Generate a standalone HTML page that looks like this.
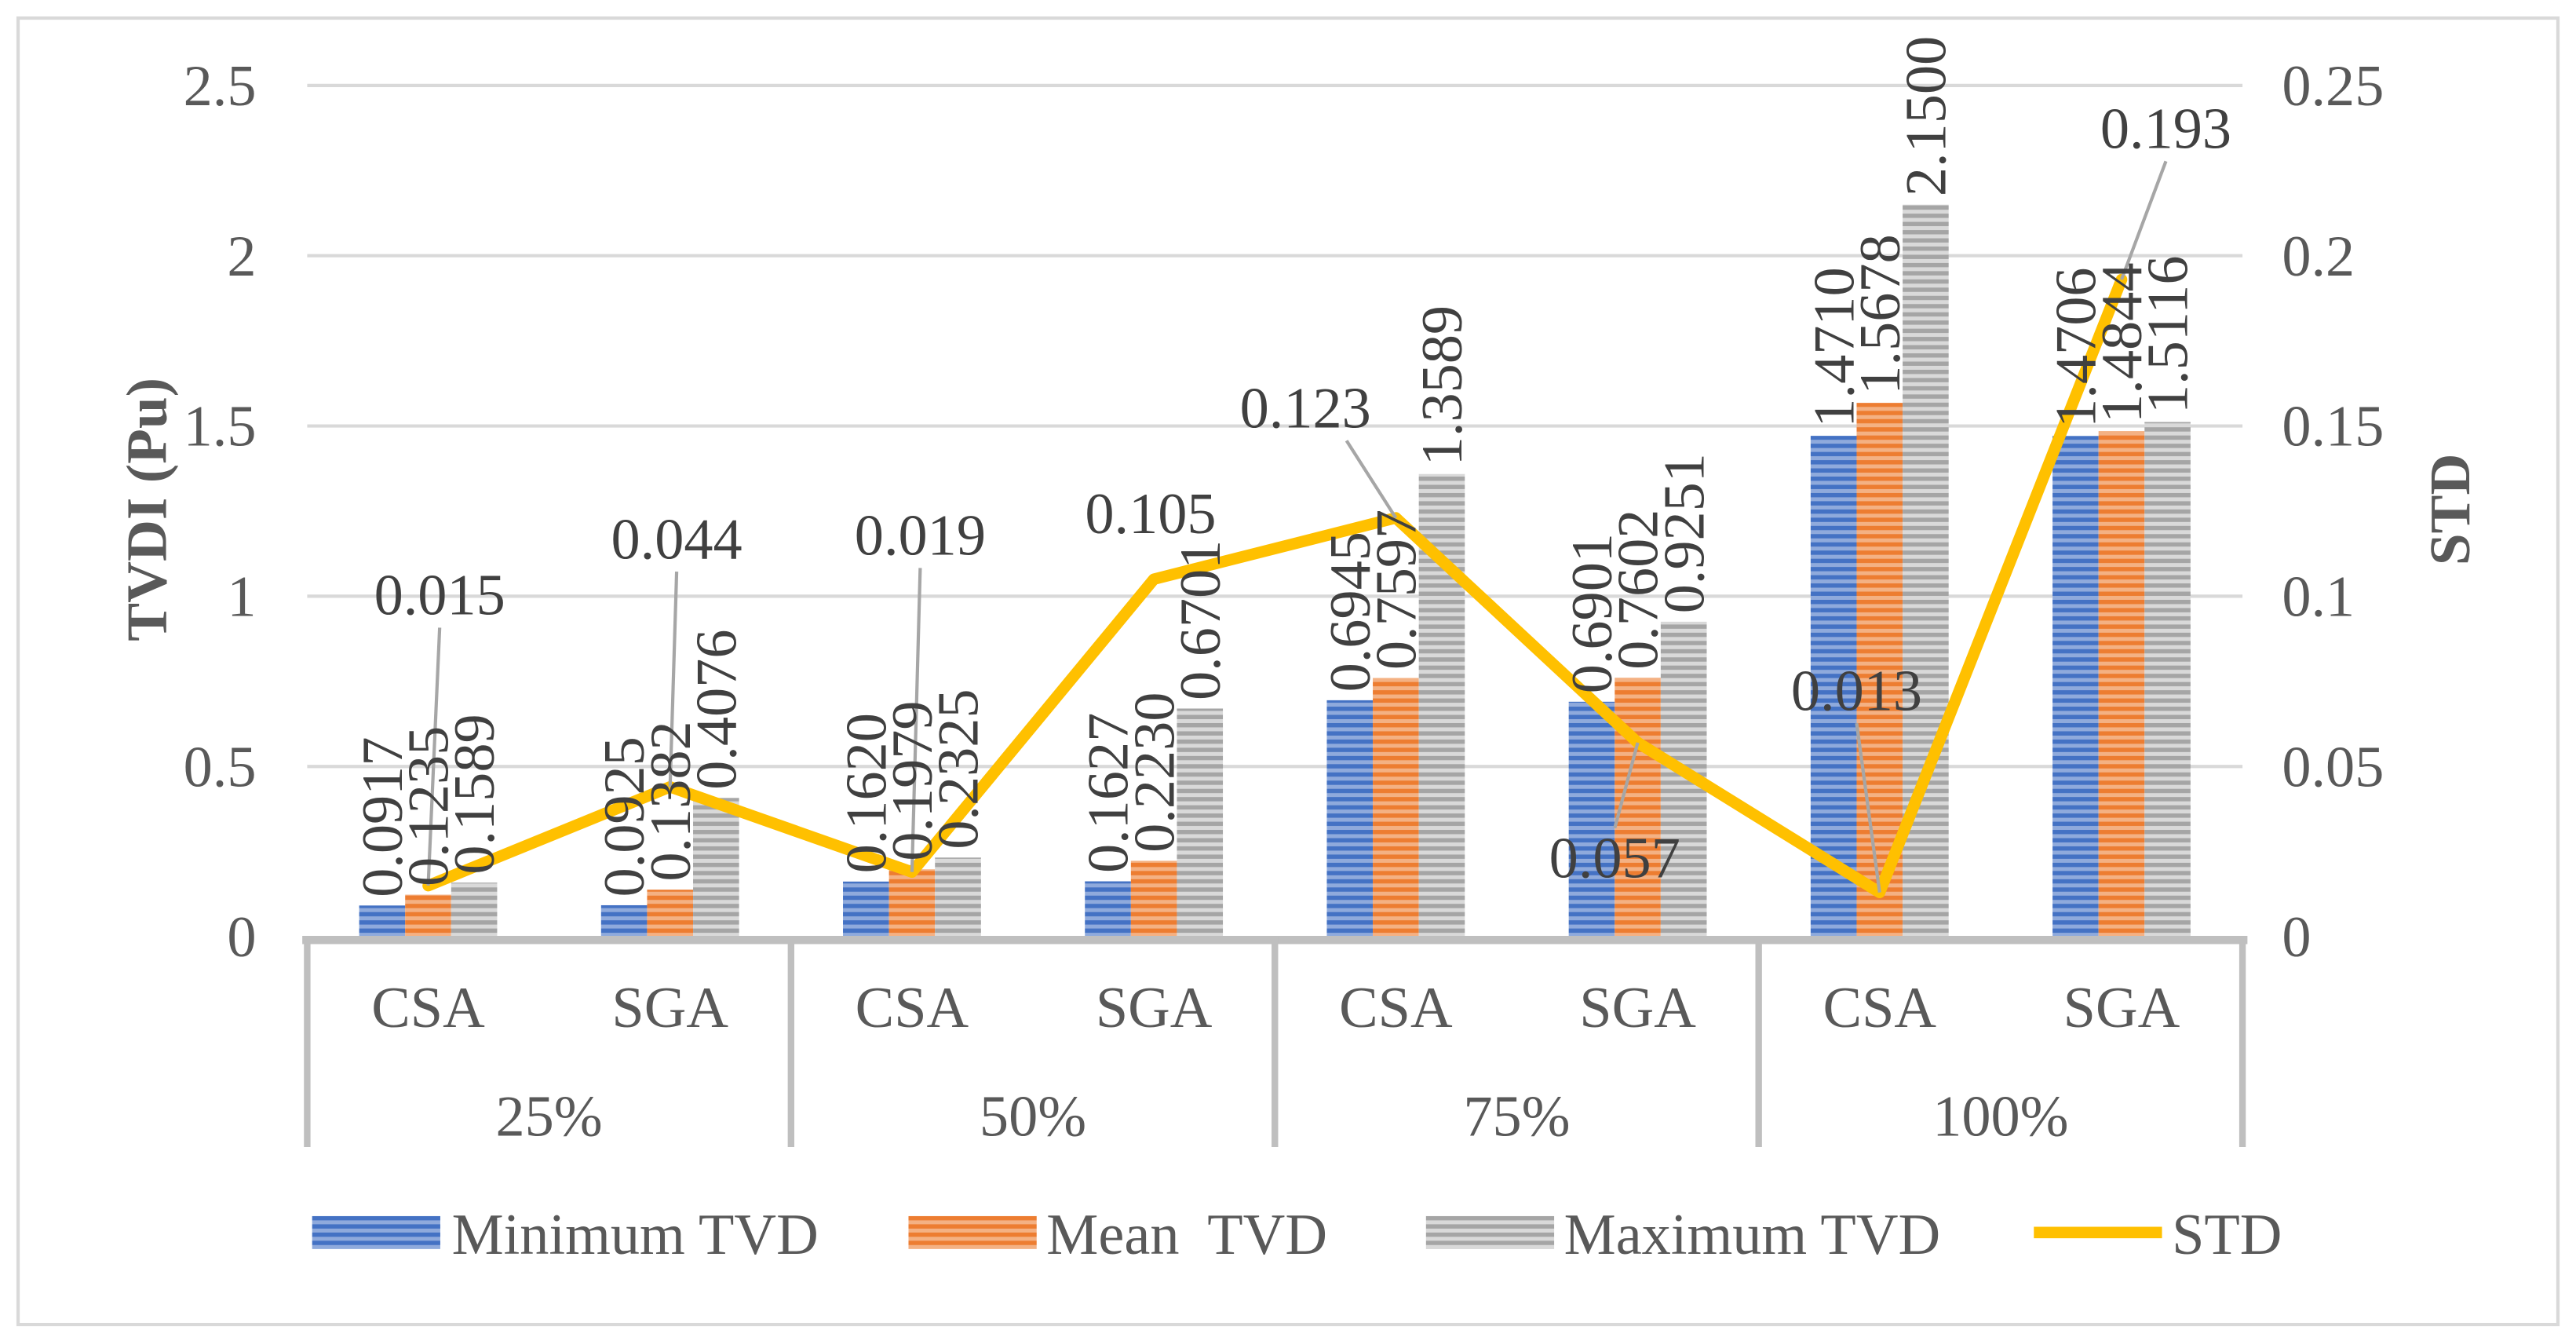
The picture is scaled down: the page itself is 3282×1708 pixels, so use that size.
<!DOCTYPE html>
<html><head><meta charset="utf-8"><style>
html,body{margin:0;padding:0;background:#fff}
svg{display:block}
text{font-family:"Liberation Serif",serif}
</style></head><body>
<svg id="chart" width="3282" height="1708" viewBox="0 0 1568 816" xmlns="http://www.w3.org/2000/svg">
<defs>
<pattern id="pBlue" width="8" height="5" patternUnits="userSpaceOnUse"><rect width="8" height="5" fill="#8faadc"/><rect width="8" height="2.6" fill="#4472c4"/></pattern>
<pattern id="pOrange" width="8" height="5" patternUnits="userSpaceOnUse"><rect width="8" height="5" fill="#f4b183"/><rect width="8" height="2.6" fill="#ed7d31"/></pattern>
<pattern id="pGrey" width="8" height="5" patternUnits="userSpaceOnUse"><rect width="8" height="5" fill="#d9d9d9"/><rect width="8" height="2.6" fill="#a5a5a5"/></pattern>
</defs>
<rect x="11" y="11" width="1546" height="795" fill="#fff" stroke="#d9d9d9" stroke-width="2"/>
<g id="grid"></g>
<g id="bars"></g>
<g id="axes"></g>
<g id="line"></g>
<g id="labels"></g>
<text transform="translate(101,310) rotate(-90)" text-anchor="middle" font-size="35" font-weight="bold" fill="#595959">TVDI (Pu)</text>
<text transform="translate(1503,310) rotate(-90)" text-anchor="middle" font-size="35" font-weight="bold" fill="#595959">STD</text>
<g>
<rect x="190" y="740" width="78" height="20" fill="url(#pBlue)"/>
<text x="275" y="763" font-size="35.5" fill="#595959">Minimum TVD</text>
<rect x="553" y="740" width="78" height="20" fill="url(#pOrange)"/>
<text x="637" y="763" font-size="35.5" fill="#595959" xml:space="preserve">Mean  TVD</text>
<rect x="868" y="740" width="78" height="20" fill="url(#pGrey)"/>
<text x="952" y="763" font-size="35.5" fill="#595959">Maximum TVD</text>
<line x1="1238" y1="750" x2="1316" y2="750" stroke="#ffc000" stroke-width="7"/>
<text x="1322" y="763" font-size="35.5" fill="#595959">STD</text>
</g>
</svg>
<script>
const categories = ["CSA","SGA","CSA","SGA","CSA","SGA","CSA","SGA"];
const groups = ["25%","50%","75%","100%"];
const minTVD = [0.0917,0.0925,0.1620,0.1627,0.6945,0.6901,1.4710,1.4706];
const meanTVD = [0.1235,0.1382,0.1979,0.2230,0.7597,0.7602,1.5678,1.4844];
const maxTVD = [0.1589,0.4076,0.2325,0.6701,1.3589,0.9251,2.1500,1.5116];
const stdVals = [0.015,0.044,0.019,0.105,0.123,0.057,0.013,0.193];
const stdLabels = ["0.015","0.044","0.019","0.105","0.123","0.057","0.013","0.193"];
const leftTicks = [0,0.5,1,1.5,2,2.5];
const leftTickLabels = ["0","0.5","1","1.5","2","2.5"];
const rightTicks = [0,0.05,0.1,0.15,0.2,0.25];
const rightTickLabels = ["0","0.05","0.1","0.15","0.2","0.25"];
// label offsets for STD data labels (layout, thumbnail units): dx, dy(baseline)
const stdLabelOffsets = [[7,-165],[4,-139],[5,-193],[-2,-28],[-55,-55],[-14,82],[-14,-111],[27,-80]];

const NS="http://www.w3.org/2000/svg";
const X0=187,X1=1365,Y0=570,YT=52,FS=35.5;
const yL=v=>Y0-v/2.5*(Y0-YT);
const yR=v=>Y0-v/0.25*(Y0-YT);
const catW=(X1-X0)/categories.length;
const xC=i=>X0+catW*(i+0.5);
function mk(tag,attrs,parent){const e=document.createElementNS(NS,tag);for(const k in attrs)e.setAttribute(k,attrs[k]);parent.appendChild(e);return e;}
const gGrid=document.getElementById('grid'),gBars=document.getElementById('bars'),gAxes=document.getElementById('axes'),gLine=document.getElementById('line'),gLab=document.getElementById('labels');

leftTicks.forEach((t,i)=>{
  if(t>0){const l=mk('line',{x1:X0,x2:X1,y1:yL(t),y2:yL(t),stroke:'#d9d9d9','stroke-width':2},gGrid);
  
  }
  const tx=mk('text',{x:156,y:yL(t)+12,'text-anchor':'end','font-size':FS,fill:'#595959'},gAxes);
  tx.textContent=leftTickLabels[i];
  
  
});
rightTicks.forEach((t,i)=>{
  const tx=mk('text',{x:1389,y:yR(t)+12,'font-size':FS,fill:'#595959'},gAxes);
  tx.textContent=rightTickLabels[i];
  
  
});

const series=[[minTVD,'url(#pBlue)','bar-minimum-tvd',-28],[meanTVD,'url(#pOrange)','bar-mean-tvd',0],[maxTVD,'url(#pGrey)','bar-maximum-tvd',28]];
series.forEach(([vals,fill,name,off])=>{
  vals.forEach((v,i)=>{
    const cx=xC(i)+off;
    const r=mk('rect',{x:cx-14,y:yL(v),width:28,height:Y0-yL(v),fill:fill},gBars);
    
    
    const t=mk('text',{transform:`translate(${cx+12},${yL(v)-5}) rotate(-90)`,'font-size':FS,fill:'#404040'},gLab);
    t.textContent=v.toFixed(4);
    
    
  });
});

const ax=mk('line',{x1:X0-3,x2:X1+3,y1:Y0+2,y2:Y0+2,stroke:'#bfbfbf','stroke-width':5},gAxes);


for(let g=0;g<=groups.length;g++){
  const x=X0+g*catW*2;
  const s=mk('line',{x1:x,x2:x,y1:Y0,y2:698,stroke:'#bfbfbf','stroke-width':4},gAxes);
  
  
}
categories.forEach((c,i)=>{
  const t=mk('text',{x:xC(i),y:625,'text-anchor':'middle','font-size':FS,fill:'#595959'},gAxes);
  t.textContent=c;
  
  
});
groups.forEach((g,i)=>{
  const t=mk('text',{x:X0+catW*(2*i+1),y:691,'text-anchor':'middle','font-size':FS,fill:'#595959'},gAxes);
  t.textContent=g;
  
  
});

const pts=stdVals.map((v,i)=>[xC(i),yR(v)]);
const pl=mk('polyline',{points:pts.map(p=>p.join(',')).join(' '),fill:'none',stroke:'#ffc000','stroke-width':7,'stroke-linejoin':'round','stroke-linecap':'round'},gLine);


stdVals.forEach((v,i)=>{
  const [px,py]=pts[i];
  const [dx,dy]=stdLabelOffsets[i];
  const lx=px+dx, ly=py+dy;
  if(i!==3){
    const ey = dy<0 ? ly+8 : ly-30;
    const ex = i===4 ? lx+25 : lx;
    const ld=mk('line',{x1:ex,y1:ey,x2:px,y2:py,stroke:'#a6a6a6','stroke-width':2},gLine);
    
    
  }
  const t=mk('text',{x:lx,y:ly,'text-anchor':'middle','font-size':FS,fill:'#404040'},gLab);
  t.textContent=stdLabels[i];
  
  
});
</script>
</body></html>
